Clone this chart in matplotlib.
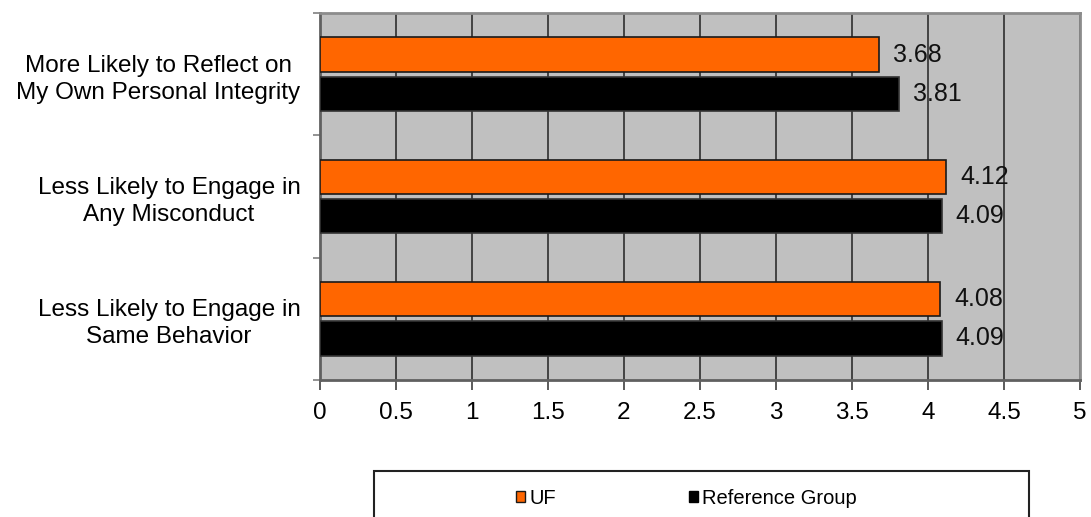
import matplotlib
matplotlib.use("Agg")
import matplotlib.pyplot as plt
from matplotlib.patches import Patch, Rectangle
import numpy as np

plt.rcParams['font.family'] = ['Liberation Sans', 'DejaVu Sans']

categories = ["More Likely to Reflect on\nMy Own Personal Integrity",
              "Less Likely to Engage in\nAny Misconduct",
              "Less Likely to Engage in\nSame Behavior"]
uf_values = [3.68, 4.12, 4.08]
ref_values = [3.81, 4.09, 4.09]
series_names = ["UF", "Reference Group"]
x_ticks = [0, 0.5, 1, 1.5, 2, 2.5, 3, 3.5, 4, 4.5, 5]
x_tick_labels = ["0", "0.5", "1", "1.5", "2", "2.5", "3", "3.5", "4", "4.5", "5"]

W, H = 1091, 517
fig = plt.figure(figsize=(W / 100, H / 100), dpi=100)
ax = fig.add_axes([320 / W, 1 - 380 / H, 760 / W, 367 / H])
ax.set_facecolor('#C0C0C0')

y = np.arange(len(categories))
bh = 0.28
off = 0.16
b1 = ax.barh(y - off, uf_values, height=bh, color='#FF6600', edgecolor='#1a1a1a', linewidth=1.2, zorder=3)
b2 = ax.barh(y + off, ref_values, height=bh, color='#000000', edgecolor='#333333', linewidth=1.2, zorder=3)

for rects, vals in ((b1, uf_values), (b2, ref_values)):
    for r, v in zip(rects, vals):
        ax.annotate(f"{v:.2f}", xy=(v, r.get_y() + r.get_height() / 2),
                    xytext=(14, 0), textcoords='offset pixels',
                    ha='left', va='center', fontsize=18, color='#111111', zorder=4)

ax.set_xlim(0, 5)
ax.set_ylim(len(categories) - 0.5, -0.5)
ax.set_xticks(x_ticks)
ax.set_xticklabels(x_tick_labels, fontsize=17.5)
ax.set_yticks(y)
ax.set_yticklabels(categories, fontsize=17.5, multialignment='center', linespacing=1.3)
ax.set_yticks(np.arange(-0.5, len(categories), 1.0), minor=True)
ax.tick_params(axis='y', which='major', length=0, pad=14)
ax.tick_params(axis='y', which='minor', length=5, color='#808080', width=1.2)
ax.tick_params(axis='x', which='major', length=7, color='#404040', width=1.2, pad=9)

ax.xaxis.grid(True, color='#222222', linewidth=1.1, zorder=1)
ax.set_axisbelow(True)
for s in ['left', 'bottom']:
    ax.spines[s].set_color('#606060')
    ax.spines[s].set_linewidth(2)
for s in ['top', 'right']:
    ax.spines[s].set_color('#8c8c8c')
    ax.spines[s].set_linewidth(2)

# legend box (extends beyond figure bottom)
fig.patches.append(Rectangle((374 / W, -0.05), (1029 - 374) / W, (1 - 471 / H) + 0.05,
                             transform=fig.transFigure, facecolor='white',
                             edgecolor='#222222', linewidth=1.5, clip_on=False))
handles = [Patch(facecolor='#FF6600', edgecolor='#1a1a1a', linewidth=1),
           Patch(facecolor='#000000', edgecolor='#000000', linewidth=1)]
fig.legend(handles, series_names, loc='center left', bbox_to_anchor=(516 / W, 1 - 498 / H),
           ncol=2, frameon=False, fontsize=14.5, handlelength=0.45, handleheight=0.45,
           handletextpad=0.2, columnspacing=6.6, borderaxespad=0, borderpad=0)

fig.savefig("out.png", dpi=100)
